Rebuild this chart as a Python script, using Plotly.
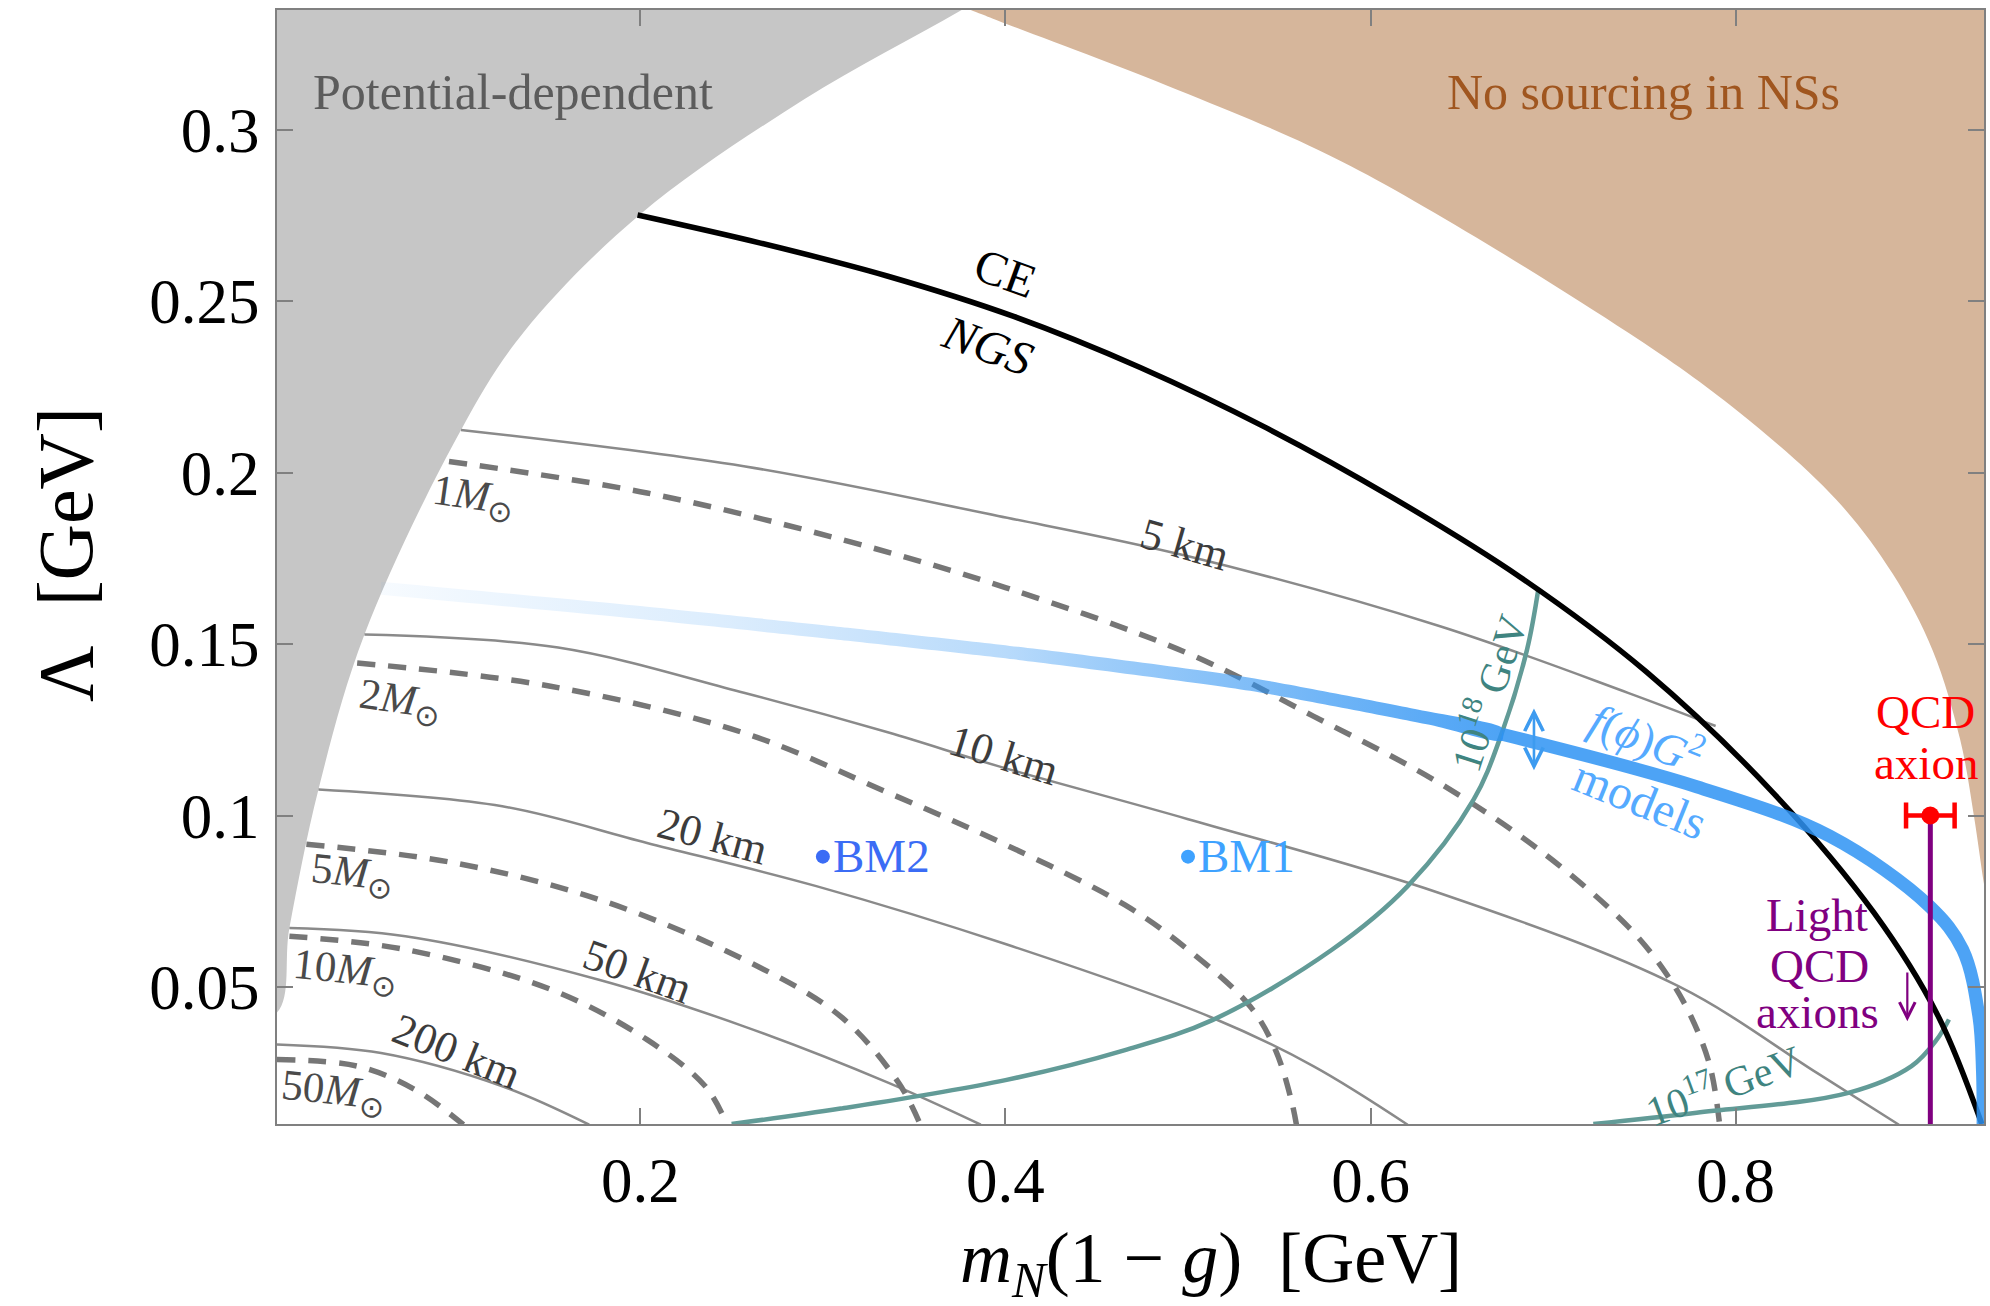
import plotly.graph_objects as go

# ---------------- axes ----------------
X_RANGE = [0.001, 0.936]
Y_RANGE = [0.01, 0.335]
x_ticks = [0.2, 0.4, 0.6, 0.8]
x_tick_text = ["0.2", "0.4", "0.6", "0.8"]
y_ticks = [0.05, 0.1, 0.15, 0.2, 0.25, 0.3]
y_tick_text = ["0.05", "0.1", "0.15", "0.2", "0.25", "0.3"]

# ---------------- shaded regions ----------------
# "Potential-dependent" region (left of its edge); edge runs from the top axis down to the left axis
pot_edge_x = [0.455, 0.376, 0.290, 0.200, 0.136, 0.1018, 0.0489, 0.0237, 0.0078, 0.0, -0.05, -0.05]
pot_edge_y = [0.360, 0.335, 0.309, 0.2754, 0.2409, 0.2125, 0.1528, 0.1076, 0.0672, 0.042, 0.042, 0.360]

# "No sourcing in NSs" region (right of its edge)
nosrc_edge_x = [0.261, 0.381, 0.396, 0.500, 0.589, 0.741, 0.801, 0.855, 0.886, 0.908, 0.923, 0.9305, 0.936, 0.940, 0.96, 0.96]
nosrc_edge_y = [0.360, 0.335, 0.3319, 0.3105, 0.2895, 0.2409, 0.2180, 0.1922, 0.1705, 0.148, 0.122, 0.0998, 0.080, 0.068, 0.068, 0.360]

# ---------------- CE / NGS boundary ----------------
ce_x = [0.1985, 0.2659, 0.3352, 0.4045, 0.4738, 0.5432, 0.6125, 0.6818, 0.7511, 0.8204, 0.8759, 0.9105, 0.9348]
ce_y = [0.2752, 0.2670, 0.2574, 0.2456, 0.2307, 0.2130, 0.1926, 0.1696, 0.1419, 0.1067, 0.0715, 0.0419, 0.0100]

# ---------------- radius contours (solid) ----------------
r5_x = [0.1018, 0.2567, 0.396, 0.4996, 0.6376, 0.741, 0.789]
r5_y = [0.2125, 0.2019, 0.1874, 0.1757, 0.1553, 0.1358, 0.1261]
r10_x = [0.0489, 0.155, 0.2567, 0.336, 0.396, 0.4996, 0.6376, 0.7686, 0.8445, 0.8894]
r10_y = [0.1528, 0.149, 0.1358, 0.1242, 0.1144, 0.0990, 0.0774, 0.0502, 0.0249, 0.0098]
r20_x = [0.0237, 0.1244, 0.2037, 0.2964, 0.400, 0.5133, 0.5686, 0.6203]
r20_y = [0.1076, 0.1027, 0.092, 0.0794, 0.0625, 0.041, 0.0269, 0.0098]
r50_x = [0.0078, 0.0713, 0.1773, 0.2567, 0.336, 0.3865]
r50_y = [0.0672, 0.0648, 0.0521, 0.0385, 0.022, 0.0098]
r200_x = [0.001, 0.058, 0.1244, 0.172]
r200_y = [0.0332, 0.0307, 0.021, 0.0098]

# ---------------- mass contours (dashed) ----------------
m1_x = [0.0952, 0.2037, 0.3097, 0.400, 0.4996, 0.5686, 0.6376, 0.695, 0.7412, 0.7619, 0.7756, 0.786, 0.7912]
m1_y = [0.2033, 0.1941, 0.1806, 0.1665, 0.1474, 0.129, 0.1095, 0.0889, 0.0675, 0.0539, 0.0413, 0.0267, 0.0098]
m2_x = [0.0449, 0.1508, 0.2567, 0.336, 0.400, 0.4652, 0.4997, 0.5342, 0.548, 0.5566, 0.5594]
m2_y = [0.1445, 0.1377, 0.1241, 0.1066, 0.0915, 0.0740, 0.0610, 0.0442, 0.0315, 0.0169, 0.0098]
m5_x = [0.0171, 0.0979, 0.1773, 0.2567, 0.3097, 0.3415, 0.3534]
m5_y = [0.0916, 0.0862, 0.0755, 0.058, 0.0414, 0.022, 0.0098]
m10_x = [0.0078, 0.0713, 0.1508, 0.2037, 0.2356, 0.2475]
m10_y = [0.0648, 0.0609, 0.0493, 0.0346, 0.021, 0.0098]
m50_x = [0.001, 0.0449, 0.0767, 0.1031]
m50_y = [0.0288, 0.0269, 0.020, 0.0098]

# ---------------- decay-constant curves ----------------
f18_x = [0.250, 0.3097, 0.400, 0.465, 0.5133, 0.579, 0.6203, 0.6565, 0.672, 0.6857, 0.692]
f18_y = [0.010, 0.0145, 0.0228, 0.0315, 0.0403, 0.0609, 0.0794, 0.1047, 0.1242, 0.1484, 0.1664]
f17_x = [0.722, 0.7786, 0.8617, 0.8963, 0.9101, 0.9168]
f17_y = [0.010, 0.0133, 0.0191, 0.0269, 0.0346, 0.0405]

# ---------------- f(phi) G^2 model band ----------------
band_x = [0.058, 0.2037, 0.3097, 0.4071, 0.534, 0.633, 0.672, 0.7786, 0.8514, 0.906, 0.9243, 0.9332, 0.9352, 0.9355]
band_y = [0.1663, 0.159, 0.1531, 0.1473, 0.1383, 0.1283, 0.1237, 0.1084, 0.094, 0.0736, 0.0609, 0.0414, 0.025, 0.010]
BAND_FADE_END = 6          # index where the faded part of the band ends
BAND_HALF = 0.0019         # half thickness of the band in data units

# ---------------- benchmark points and QCD axion ----------------
bm_names = ["BM1", "BM2"]
bm_x = [0.5, 0.3]
bm_y = [0.088, 0.088]
bm_colors = ["#3ea2ff", "#3b6cf5"]

qcd_x = 0.9066
qcd_y = 0.100
qcd_err = 0.0133

fig = go.Figure()


def line(x, y, color, width, dash=None, smoothing=1.0):
    fig.add_trace(go.Scatter(
        x=x, y=y, mode="lines", hoverinfo="skip", showlegend=False,
        line=dict(color=color, width=width, dash=dash, shape="spline", smoothing=smoothing),
    ))


def region(x, y, color):
    fig.add_trace(go.Scatter(
        x=x, y=y, mode="lines", fill="toself", fillcolor=color, hoverinfo="skip",
        showlegend=False, line=dict(width=0, color=color, shape="spline", smoothing=1.0),
    ))


region(pot_edge_x, pot_edge_y, "#c6c6c6")
region(nosrc_edge_x, nosrc_edge_y, "#d6b69b")

GRAY_SOLID = "#8a8a8a"
for xs, ys in [(r5_x, r5_y), (r10_x, r10_y), (r20_x, r20_y), (r50_x, r50_y), (r200_x, r200_y)]:
    line(xs, ys, GRAY_SOLID, 2.5)

GRAY_DASH = "#767676"
for xs, ys in [(m1_x, m1_y), (m2_x, m2_y), (m5_x, m5_y), (m10_x, m10_y), (m50_x, m50_y)]:
    line(xs, ys, GRAY_DASH, 5.5, dash="18px,13px")

TEAL = "#629b97"
line(f18_x, f18_y, TEAL, 4.5)
line(f17_x, f17_y, TEAL, 4.5)

line(ce_x, ce_y, "black", 5.5)

# faded part of the band: a thin filled strip with a horizontal colour gradient
fade_x = band_x[:BAND_FADE_END + 1]
fade_y = band_y[:BAND_FADE_END + 1]
strip_x = fade_x + fade_x[::-1]
strip_y = [v + BAND_HALF for v in fade_y] + [v - BAND_HALF for v in fade_y[::-1]]
BLUE = "46,147,243"
fig.add_trace(go.Scatter(
    x=strip_x, y=strip_y, mode="lines", fill="toself", hoverinfo="skip", showlegend=False,
    line=dict(width=0, shape="spline", smoothing=0.6),
    fillgradient=dict(
        type="horizontal", start=fade_x[0], stop=fade_x[-1],
        colorscale=[[0.0, f"rgba({BLUE},0.04)"], [0.085, f"rgba({BLUE},0.08)"],
                    [0.31, f"rgba({BLUE},0.17)"], [0.557, f"rgba({BLUE},0.34)"],
                    [0.638, f"rgba({BLUE},0.46)"], [0.93, f"rgba({BLUE},0.78)"],
                    [1.0, f"rgba({BLUE},0.85)"]],
    ),
))
# solid part of the band
line(band_x[BAND_FADE_END:], band_y[BAND_FADE_END:], f"rgba({BLUE},0.85)", 13)

# light QCD axion line and QCD axion point
fig.add_trace(go.Scatter(
    x=[qcd_x, qcd_x], y=[qcd_y, Y_RANGE[0]], mode="lines", hoverinfo="skip",
    showlegend=False, line=dict(color="#800080", width=5),
))
fig.add_trace(go.Scatter(
    x=[qcd_x], y=[qcd_y], mode="markers", hoverinfo="skip", showlegend=False,
    marker=dict(color="#ff0000", size=18),
    error_x=dict(type="constant", value=qcd_err, color="#ff0000", thickness=4.5, width=13),
))

# benchmark points
for name, bx, by, c in zip(bm_names, bm_x, bm_y, bm_colors):
    fig.add_trace(go.Scatter(
        x=[bx], y=[by], mode="markers", hoverinfo="skip", showlegend=False,
        marker=dict(color=c, size=14),
    ))
    fig.add_annotation(x=bx, y=by, text=name, showarrow=False, xanchor="left",
                       xshift=8, yshift=1, font=dict(size=47, color=c))

FONT = "Liberation Serif"


def label(x, y, text, size, color, angle=0, **kw):
    fig.add_annotation(x=x, y=y, text=text, showarrow=False, textangle=angle,
                       xanchor="center", yanchor="middle",
                       font=dict(family=FONT, size=size, color=color), **kw)


label(0.130, 0.3112, "Potential-dependent", 50, "#5c5c5c")
label(0.7497, 0.3112, "No sourcing in NSs", 50, "#a0561f")
label(0.3998, 0.2585, "CE", 48, "black", 20)
label(0.3906, 0.2372, "<i>NGS</i>", 48, "black", 20)

MASS_C = "#4a4a4a"
label(0.1081, 0.1925, "1<i>M</i><sub>⊙</sub>", 43, MASS_C, 8)
label(0.0681, 0.1332, "2<i>M</i><sub>⊙</sub>", 43, MASS_C, 8)
label(0.0422, 0.0826, "5<i>M</i><sub>⊙</sub>", 43, MASS_C, 6)
label(0.0383, 0.0544, "10<i>M</i><sub>⊙</sub>", 43, MASS_C, 6)
label(0.0317, 0.0189, "50<i>M</i><sub>⊙</sub>", 43, MASS_C, 6)

KM_C = "#3c3c3c"
label(0.4979, 0.1790, "5 km", 44, KM_C, 16)
label(0.3990, 0.1174, "10 km", 44, KM_C, 17)
label(0.2395, 0.0939, "20 km", 44, KM_C, 15)
label(0.1984, 0.0545, "50 km", 44, KM_C, 20)
label(0.0992, 0.0311, "200 km", 44, KM_C, 22)

label(0.6638, 0.1358, "10<sup>18</sup> GeV", 42, "#3f8480", -72)
label(0.7927, 0.0218, "10<sup>17</sup> GeV", 42, "#3f8480", -20)

label(0.7515, 0.1232, "<i>f</i>(<i>ϕ</i>)<i>G</i><sup>2</sup>", 46, "#55aaff", 22)
label(0.7480, 0.1047, "models", 48, "#55aaff", 22)

label(0.9040, 0.1302, "QCD", 47, "#ff0000")
label(0.9040, 0.1152, "axion", 47, "#ff0000")

label(0.8446, 0.0710, "Light", 47, "#800080")
label(0.8460, 0.0560, "QCD", 47, "#800080")
label(0.8450, 0.0428, "axions", 47, "#800080")

# double-headed arrow next to the band label
fig.add_annotation(x=0.6895, y=0.1312, ax=0.6895, ay=0.1128, xref="x", yref="y",
                   axref="x", ayref="y", text="", showarrow=True, arrowside="end+start",
                   arrowhead=5, startarrowhead=5, arrowsize=1.4, startarrowsize=1.4,
                   arrowwidth=2.6, arrowcolor="#3d9bf0")
# downward arrow for light QCD axions
fig.add_annotation(x=0.8940, y=0.0400, ax=0.8940, ay=0.0546, xref="x", yref="y",
                   axref="x", ayref="y", text="", showarrow=True,
                   arrowhead=5, arrowsize=1.4, arrowwidth=2.2, arrowcolor="#800080")

# axis titles
fig.add_annotation(xref="paper", yref="paper", x=-0.1235, y=0.511, text="Λ\u2002[GeV]",
                   xanchor="center", yanchor="middle", textangle=-90, showarrow=False,
                   font=dict(family=FONT, size=78, color="black"))
fig.add_annotation(xref="paper", yref="paper", x=0.547, y=-0.125,
                   text="<i>m</i><sub><i>N</i></sub>(1 − <i>g</i>)\u2002[GeV]",
                   xanchor="center", yanchor="middle", showarrow=False,
                   font=dict(family=FONT, size=72, color="black"))

AX = "#808080"
axis_common = dict(
    showgrid=False, zeroline=False, showline=True, linecolor=AX, linewidth=2,
    mirror="allticks", ticks="inside", ticklen=16, tickwidth=2, tickcolor=AX,
    tickfont=dict(family=FONT, size=63, color="black"),
)
fig.update_xaxes(range=X_RANGE, tickvals=x_ticks, ticktext=x_tick_text,
                 ticklabelstandoff=0, **axis_common)
fig.update_yaxes(range=Y_RANGE, tickvals=y_ticks, ticktext=y_tick_text,
                 ticklabelstandoff=3, **axis_common)

fig.update_layout(
    width=1990, height=1306,
    margin=dict(l=277, r=4, t=10, b=182),
    paper_bgcolor="white", plot_bgcolor="white",
    showlegend=False,
    font=dict(family=FONT, color="black"),
)

fig.write_html("out.html")
